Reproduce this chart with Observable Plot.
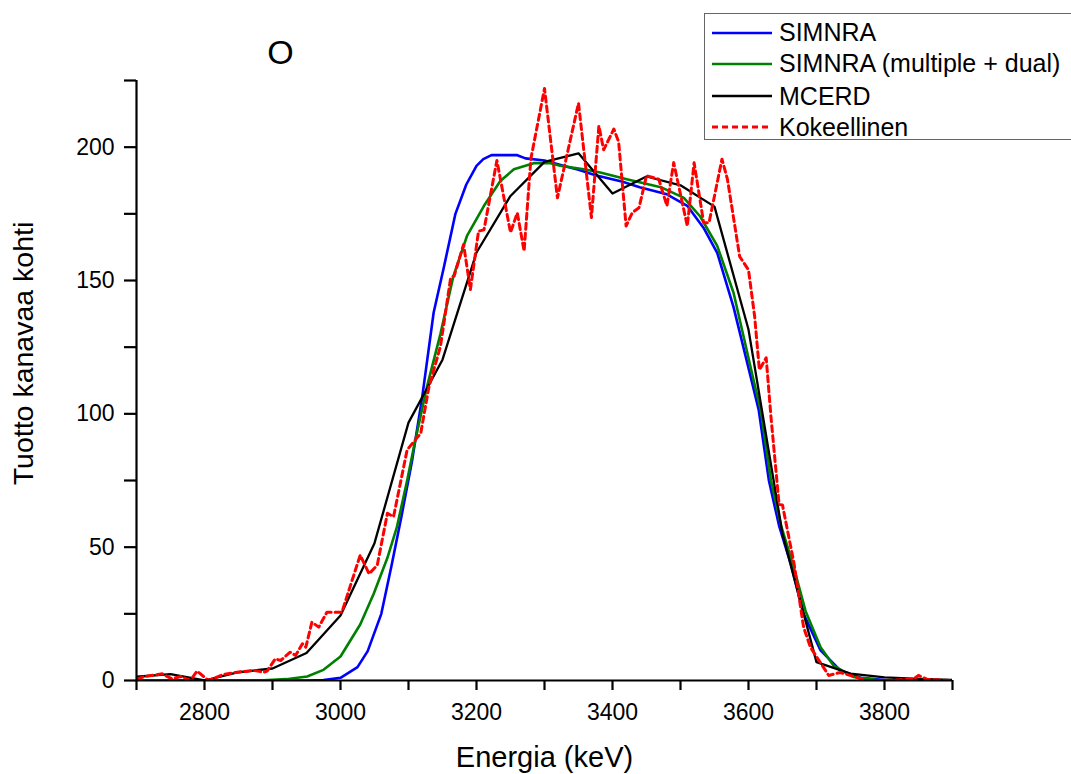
<!DOCTYPE html>
<html>
<head>
<meta charset="utf-8">
<script src="https://cdn.jsdelivr.net/npm/d3@7"></script>
<script src="https://cdn.jsdelivr.net/npm/@observablehq/plot@0.6"></script>
<style>
  body { margin: 0; background: #fff; overflow: hidden; }
  #wrap { position: relative; width: 1071px; height: 774px; font-family: "Liberation Sans", Arial, sans-serif; }
  #legend { position: absolute; left: 704px; top: 13px; width: 400px; height: 127px; border: 1.5px solid #666; background: #fff; box-sizing: border-box; }
  .row { position: absolute; left: 7px; height: 30px; display: flex; align-items: center; font-size: 25px; color: #000; white-space: nowrap; }
  .row svg { margin-right: 7px; }
</style>
</head>
<body>
<div id="wrap"><div id="chart"></div><div id="legend"></div></div>
<script>
// ---- data ----
const seriesNames = ["SIMNRA", "SIMNRA (multiple + dual)", "MCERD", "Kokeellinen"];
const seriesColors = ["#0000ff", "#008000", "#000000", "#ff0000"];

const simnraE = [2700, 2900, 2950, 2975, 3000, 3025, 3040, 3060, 3075, 3090, 3105, 3120, 3137, 3152, 3169, 3185, 3200, 3210, 3222, 3260, 3272, 3300, 3325, 3350, 3375, 3415, 3440, 3480, 3510, 3534, 3554, 3578, 3605, 3615, 3630, 3645, 3662, 3681, 3706, 3735, 3765, 3800, 3900];
const simnraY = [0, 0, 0, 0.2, 1, 5, 11, 25, 43, 62, 82, 106, 138, 155, 175, 186, 193, 195.5, 197, 197, 195.8, 195, 193.2, 191.5, 189.5, 187, 185, 182.3, 178, 169.7, 160.4, 140, 112, 101.5, 75, 58, 43.8, 25, 11.3, 3.8, 1, 0.2, 0];

const dualE = [2700, 2880, 2920, 2951, 2975, 3000, 3029, 3049, 3069, 3083, 3098, 3108, 3127, 3147, 3166, 3186, 3211, 3235, 3255, 3284, 3309, 3323, 3358, 3382, 3421, 3471, 3505, 3529, 3554, 3578, 3608, 3618, 3633, 3648, 3665, 3684, 3706, 3725, 3755, 3790, 3900];
const dualY = [0, 0, 0.5, 1.5, 4, 9, 21, 32.6, 46, 57.6, 75, 87.7, 110, 130, 151.6, 166.7, 178, 187.3, 191.7, 194, 194, 193, 191.7, 190.5, 188, 185, 181, 174, 163, 145.4, 112, 101.5, 75, 58, 43.8, 26, 12.5, 5.6, 1.3, 0.2, 0];

const mcerdE = [2700, 2750, 2800, 2850, 2900, 2950, 3000, 3050, 3100, 3150, 3200, 3250, 3300, 3350, 3400, 3450, 3500, 3550, 3600, 3650, 3700, 3750, 3800, 3850, 3900];
const mcerdY = [1.4, 2.4, 0, 3.1, 4.5, 10.3, 24.4, 51.5, 96.7, 120.3, 160.5, 181.7, 194.5, 197.7, 182.6, 189, 185.7, 177.7, 131.6, 55, 6.9, 2.6, 1.2, 0.6, 0.2];

const expE = [2701, 2712, 2738, 2752, 2765, 2779, 2789, 2806, 2828, 2848, 2873, 2887, 2892, 2904, 2912, 2926, 2934, 2944, 2949, 2958, 2968, 2980, 3002, 3029, 3042, 3054, 3069, 3078, 3098, 3108, 3118, 3123, 3130, 3147, 3162, 3167, 3181, 3191, 3203, 3211, 3230, 3250, 3260, 3270, 3280, 3300, 3319, 3350, 3369, 3380, 3387, 3402, 3409, 3420, 3429, 3439, 3450, 3468, 3480, 3490, 3510, 3520, 3534, 3542, 3561, 3569, 3587, 3600, 3609, 3616, 3626, 3633, 3645, 3650, 3667, 3681, 3691, 3718, 3735, 3774, 3804, 3843, 3850, 3863, 3897];
const expY = [0.6, 1.5, 2.5, 0.6, 1.5, 0, 3.5, 0, 2.3, 3.1, 3.8, 3.1, 3.5, 8.1, 7.5, 10.6, 9.4, 13.8, 12.5, 21.9, 20, 25.6, 25.6, 47, 40, 43.2, 62.7, 61.4, 86.5, 89.6, 92.7, 100, 110, 125.3, 151, 151.6, 163.5, 146.6, 168.5, 169, 195, 168, 175.4, 161, 195.7, 222, 181, 216.5, 173.6, 208, 199, 206.8, 202, 170.4, 175.4, 177.3, 189.3, 188, 178, 194.2, 170.4, 194.2, 171.7, 171.7, 195.5, 188, 159, 154, 136.6, 116.5, 121, 99, 66, 65.8, 43.8, 20, 12.5, 1.9, 3, 0, 0, 0.6, 1.9, 0.4, 0];

const xMajor = [2800, 3000, 3200, 3400, 3600, 3800];
const xMinor = [2700, 2900, 3100, 3300, 3500, 3700, 3900];
const yMajor = [0, 50, 100, 150, 200];
const yMinor = [25, 75, 125, 175, 225];

const titleText = "O";
const xLabel = "Energia (keV)";
const yLabel = "Tuotto kanavaa kohti";

// ---- build tables ----
const toRows = (E, Y) => E.map((e, i) => ({e, y: Y[i]}));
const simnra = toRows(simnraE, simnraY);
const dual = toRows(dualE, dualY);
const mcerd = toRows(mcerdE, mcerdY);
const exp = toRows(expE, expY);

const font = '"Liberation Sans", Arial, sans-serif';

const chart = Plot.plot({
  width: 1071,
  height: 774,
  marginLeft: 136,
  marginRight: 119,
  marginTop: 80,
  marginBottom: 94,
  style: {fontFamily: font, fontSize: "23px", color: "#000", background: "#fff", overflow: "visible"},
  x: {domain: [2700, 3900]},
  y: {domain: [0, 225]},
  marks: [
    Plot.line(simnra, {x: "e", y: "y", stroke: seriesColors[0], strokeWidth: 2.6, clip: true}),
    Plot.line(dual, {x: "e", y: "y", stroke: seriesColors[1], strokeWidth: 2.6, clip: true}),
    Plot.line(mcerd, {x: "e", y: "y", stroke: seriesColors[2], strokeWidth: 2.3, clip: true}),
    Plot.line(exp, {x: "e", y: "y", stroke: seriesColors[3], strokeWidth: 3, strokeDasharray: "6,4", clip: true}),
    Plot.ruleY([0], {stroke: "#000", strokeWidth: 2.2}),
    Plot.ruleX([2700], {stroke: "#000", strokeWidth: 2.2}),
    Plot.axisY({ticks: yMajor, tickSize: 12, tickPadding: 10, fontSize: 23, strokeWidth: 2.2, label: null, tickFormat: d => String(d)}),
    Plot.axisY({ticks: yMinor, tickSize: 12, strokeWidth: 2.2, label: null, tickFormat: () => ""}),
    Plot.axisX({ticks: xMajor, tickSize: 10, tickPadding: 13, fontSize: 23, strokeWidth: 2.2, label: null, tickFormat: d => String(d)}),
    Plot.axisX({ticks: xMinor, tickSize: 10, strokeWidth: 2.2, label: null, tickFormat: () => ""}),
    Plot.text([xLabel], {text: d => d, frameAnchor: "bottom", dy: 77, fontSize: 29, textAnchor: "middle", lineAnchor: "middle", fill: "#000"}),
    Plot.text([yLabel], {text: d => d, frameAnchor: "left", dx: -113, dy: -27, rotate: -90, fontSize: 28.5, textAnchor: "middle", lineAnchor: "middle", fill: "#000"}),
    Plot.text([titleText], {text: d => d, frameAnchor: "top-left", dx: 144, dy: -27, fontSize: 34, textAnchor: "middle", lineAnchor: "middle", fill: "#000"})
  ]
});
document.getElementById("chart").appendChild(chart);

// ---- legend ----
const legend = document.getElementById("legend");
const rowCenters = [18.7, 49.7, 82, 113];
seriesNames.forEach((name, i) => {
  const row = document.createElement("div");
  row.className = "row";
  row.style.top = (rowCenters[i] - 15) + "px";
  const dash = i === 3 ? 'stroke-dasharray="6,4"' : "";
  const sw = i === 3 ? 3 : 2.6;
  row.innerHTML = `<svg width="60" height="10"><line x1="0" y1="5" x2="60" y2="5" stroke="${seriesColors[i]}" stroke-width="${sw}" ${dash}/></svg><span>${name}</span>`;
  legend.appendChild(row);
});
</script>
</body>
</html>
